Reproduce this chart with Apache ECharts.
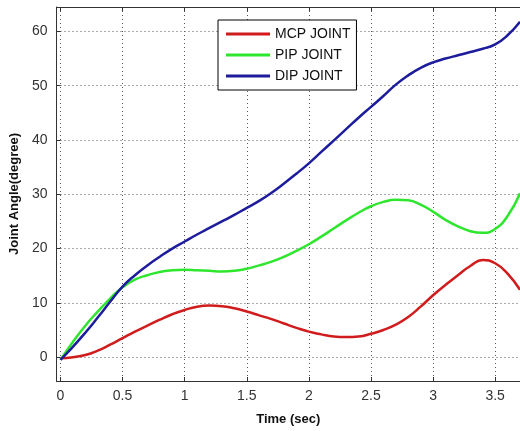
<!DOCTYPE html>
<html><head><meta charset="utf-8">
<script src="https://cdn.jsdelivr.net/npm/echarts@6/dist/echarts.min.js"></script>
<style>html,body{margin:0;padding:0;background:#fff}#c{width:520px;height:431px}</style>
</head><body><div id="c"></div>
<script>
const time = [0,0.1,0.2,0.3,0.4,0.5,0.6,0.7,0.8,0.9,1.0,1.1,1.2,1.3,1.4,1.5,1.6,1.7,1.8,1.9,2.0,2.1,2.2,2.3,2.4,2.5,2.6,2.7,2.8,2.9,3.0,3.1,3.2,3.3,3.4,3.5,3.6,3.7];
const mcpJoint = [-0.2,0.0,0.4,1.2,2.3,3.5,4.7,5.8,6.9,7.9,8.7,9.3,9.5,9.4,9.0,8.4,7.7,7.0,6.2,5.4,4.7,4.2,3.8,3.7,3.8,4.3,5.0,6.0,7.4,9.3,11.4,13.3,15.1,16.8,17.9,17.3,15.4,12.4];
const pipJoint = [-0.5,2.8,5.8,8.4,10.8,12.9,14.3,15.1,15.7,16.0,16.1,16.0,15.9,15.8,15.9,16.3,16.9,17.6,18.5,19.6,20.8,22.2,23.7,25.2,26.6,27.8,28.6,29.0,28.9,28.1,26.8,25.3,24.1,23.2,22.9,23.6,26.0,30.2];
const dipJoint = [-0.5,1.9,4.5,7.3,10.2,13.0,15.1,16.9,18.5,20.0,21.3,22.6,23.8,25.0,26.2,27.5,28.8,30.3,32.0,33.8,35.7,37.8,39.9,42.0,44.1,46.1,48.1,50.2,51.9,53.3,54.3,55.0,55.6,56.2,56.8,57.6,59.3,61.8];
const xTicks = [0,0.5,1,1.5,2,2.5,3,3.5];
const yTicks = [0,10,20,30,40,50,60];
const seriesNames = ['MCP JOINT','PIP JOINT','DIP JOINT'];

const font = '"Liberation Sans", Arial, sans-serif';
const colors = ['#d01c1c','#2fe62f','#1c1c9c'];
const pair = arr => time.map((t,i)=>[t,arr[i]]);
const gridLine = {show:true,lineStyle:{color:'#555',width:1,type:[1,3]}};

const chart = echarts.init(document.getElementById('c'), null, {renderer:'canvas'});
chart.setOption({
  animation:false,
  backgroundColor:'#fff',
  color: colors,
  grid:{left:51,right:-2,top:7,bottom:43,containLabel:false},
  legend:{
    orient:'vertical', left:218, top:20,
    data: seriesNames.map(n=>({name:n,icon:'rect'})),
    backgroundColor:'#fff', borderColor:'#000', borderWidth:1, borderRadius:0,
    padding:[6,6,6,8], itemWidth:44, itemHeight:3, itemGap:5,
    textStyle:{fontFamily:font,fontSize:14,color:'#111',lineHeight:16}
  },
  xAxis:[{
    type:'value', min:-0.032, max:3.7,
    name:'Time (sec)', nameLocation:'middle', nameGap:32,
    nameTextStyle:{fontFamily:font,fontSize:13,fontWeight:'bold',color:'#111'},
    axisLine:{show:true,onZero:false,lineStyle:{color:'#333',width:1}},
    axisTick:{show:true,inside:true,length:4,customValues:xTicks,lineStyle:{color:'#333'}},
    axisLabel:{customValues:xTicks,fontFamily:font,fontSize:14,color:'#333',margin:8,formatter:v=>String(v)},
    splitLine:gridLine
  },{
    type:'value', min:-0.032, max:3.7, position:'top',
    axisLine:{show:true,onZero:false,lineStyle:{color:'#333',width:1}},
    axisTick:{show:true,inside:true,length:4,customValues:xTicks,lineStyle:{color:'#333'}},
    axisLabel:{show:false},
    splitLine:{show:false}
  }],
  yAxis:{
    type:'value', min:-4.39, max:64.5,
    name:'Joint Angle(degree)', nameLocation:'middle', nameGap:34,
    nameTextStyle:{fontFamily:font,fontSize:13,fontWeight:'bold',color:'#111'},
    axisLine:{show:true,onZero:false,lineStyle:{color:'#333',width:1}},
    axisTick:{show:true,inside:true,length:4,customValues:yTicks,lineStyle:{color:'#333'}},
    axisLabel:{customValues:yTicks,fontFamily:font,fontSize:14,color:'#333',margin:9},
    splitLine:gridLine
  },
  series:[
    {name:seriesNames[0],type:'line',data:pair(mcpJoint),smooth:0.5,showSymbol:false,symbol:'none',lineStyle:{width:2.5,color:colors[0]},itemStyle:{color:colors[0]}},
    {name:seriesNames[1],type:'line',data:pair(pipJoint),smooth:0.5,showSymbol:false,symbol:'none',lineStyle:{width:2.5,color:colors[1]},itemStyle:{color:colors[1]}},
    {name:seriesNames[2],type:'line',data:pair(dipJoint),smooth:0.5,showSymbol:false,symbol:'none',lineStyle:{width:2.5,color:colors[2]},itemStyle:{color:colors[2]}}
  ]
});
</script>
</body></html>
